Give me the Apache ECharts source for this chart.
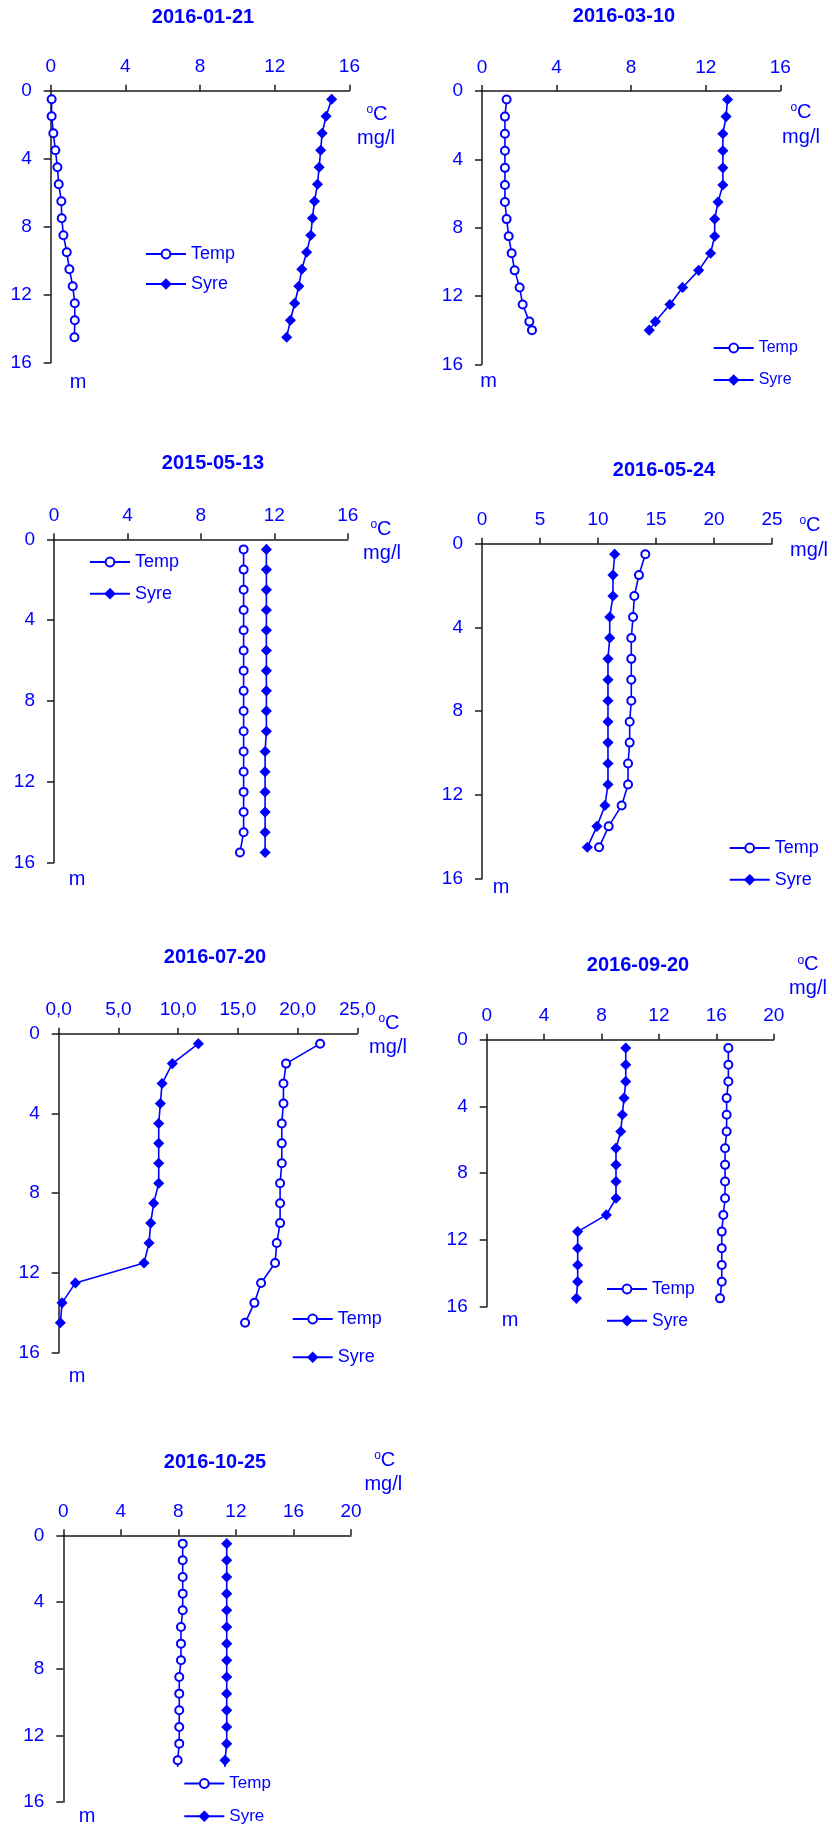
<!DOCTYPE html>
<html>
<head>
<meta charset="utf-8">
<script src="https://cdn.jsdelivr.net/npm/echarts@6/dist/echarts.min.js"></script>
<style>
  html, body { margin: 0; padding: 0; background: #fff; }
  #chart { width: 832px; height: 1827px; }
</style>
</head>
<body>
<div id="chart"></div>
<script>
// Depth profiles of water temperature (Temp, °C) and dissolved oxygen (Syre, mg/l)
const seriesNames = ['Temp', 'Syre'];
const dates = ['2016-01-21', '2016-03-10', '2015-05-13', '2016-05-24', '2016-07-20', '2016-09-20', '2016-10-25'];
const depthTicks = [0, 4, 8, 12, 16];

// 2016-01-21
const depth0121 = [0.5, 1.5, 2.5, 3.5, 4.5, 5.5, 6.5, 7.5, 8.5, 9.5, 10.5, 11.5, 12.5, 13.5, 14.5];
const temp0121  = [0.05, 0.05, 0.14, 0.25, 0.36, 0.43, 0.57, 0.59, 0.68, 0.86, 1.0, 1.18, 1.29, 1.29, 1.27];
const syre0121  = [15.05, 14.75, 14.54, 14.46, 14.38, 14.29, 14.13, 14.02, 13.93, 13.71, 13.45, 13.29, 13.07, 12.84, 12.64];

// 2016-03-10
const depth0310 = [0.5, 1.5, 2.5, 3.5, 4.5, 5.5, 6.5, 7.5, 8.5, 9.5, 10.5, 11.5, 12.5, 13.5, 14.0];
const temp0310  = [1.32, 1.23, 1.23, 1.23, 1.23, 1.23, 1.23, 1.32, 1.43, 1.59, 1.75, 2.02, 2.18, 2.54, 2.68];
const syre0310  = [13.17, 13.09, 12.92, 12.92, 12.92, 12.92, 12.66, 12.48, 12.48, 12.26, 11.62, 10.76, 10.08, 9.30, 8.97];

// 2015-05-13
const depth0513 = [0.5, 1.5, 2.5, 3.5, 4.5, 5.5, 6.5, 7.5, 8.5, 9.5, 10.5, 11.5, 12.5, 13.5, 14.5, 15.5];
const temp0513  = [10.33, 10.33, 10.33, 10.33, 10.33, 10.33, 10.33, 10.33, 10.33, 10.33, 10.33, 10.33, 10.33, 10.33, 10.33, 10.13];
const syre0513  = [11.57, 11.57, 11.57, 11.57, 11.57, 11.57, 11.57, 11.57, 11.57, 11.57, 11.50, 11.50, 11.50, 11.50, 11.50, 11.50];

// 2016-05-24
const depth0524 = [0.5, 1.5, 2.5, 3.5, 4.5, 5.5, 6.5, 7.5, 8.5, 9.5, 10.5, 11.5, 12.5, 13.5, 14.5];
const temp0524  = [14.08, 13.53, 13.13, 13.02, 12.87, 12.87, 12.87, 12.87, 12.73, 12.73, 12.59, 12.59, 12.04, 10.92, 10.09];
const syre0524  = [11.44, 11.29, 11.29, 11.01, 11.01, 10.86, 10.86, 10.86, 10.86, 10.86, 10.86, 10.86, 10.60, 9.91, 9.08];

// 2016-07-20
const depth0720 = [0.5, 1.5, 2.5, 3.5, 4.5, 5.5, 6.5, 7.5, 8.5, 9.5, 10.5, 11.5, 12.5, 13.5, 14.5];
const temp0720  = [21.88, 19.03, 18.81, 18.81, 18.67, 18.67, 18.67, 18.53, 18.53, 18.53, 18.25, 18.11, 16.94, 16.38, 15.60];
const syre0720  = [11.69, 9.51, 8.65, 8.51, 8.37, 8.37, 8.37, 8.37, 7.95, 7.70, 7.56, 7.14, 1.40, 0.28, 0.14];

// 2016-09-20
const depth0920 = [0.5, 1.5, 2.5, 3.5, 4.5, 5.5, 6.5, 7.5, 8.5, 9.5, 10.5, 11.5, 12.5, 13.5, 14.5, 15.5];
const temp0920  = [16.84, 16.84, 16.84, 16.72, 16.72, 16.72, 16.61, 16.61, 16.61, 16.61, 16.49, 16.38, 16.38, 16.38, 16.38, 16.26];
const syre0920  = [9.69, 9.69, 9.69, 9.57, 9.45, 9.34, 9.01, 9.01, 9.01, 9.01, 8.34, 6.34, 6.34, 6.34, 6.34, 6.25];

// 2016-10-25 (deepest reading sits under the legend box)
const depth1025 = [0.5, 1.5, 2.5, 3.5, 4.5, 5.5, 6.5, 7.5, 8.5, 9.5, 10.5, 11.5, 12.5, 13.5, 14.5];
const temp1025  = [8.30, 8.30, 8.30, 8.30, 8.30, 8.18, 8.18, 8.18, 8.06, 8.06, 8.06, 8.06, 8.06, 7.95, 7.95];
const syre1025  = [11.36, 11.36, 11.36, 11.36, 11.36, 11.36, 11.36, 11.36, 11.36, 11.36, 11.36, 11.36, 11.36, 11.24, 11.24];

const profiles = [
  { depth: depth0121, temp: temp0121, syre: syre0121 },
  { depth: depth0310, temp: temp0310, syre: syre0310 },
  { depth: depth0513, temp: temp0513, syre: syre0513 },
  { depth: depth0524, temp: temp0524, syre: syre0524 },
  { depth: depth0720, temp: temp0720, syre: syre0720 },
  { depth: depth0920, temp: temp0920, syre: syre0920 },
  { depth: depth1025, temp: temp1025, syre: syre1025 }
];

// Panel layout: plot box, value-axis range, text anchors and legend placement
const layout = [
  { box: [50.7, 90.7, 298.7, 272],  xMax: 16, xStep: 4, title: [203, 17],    degC: [377, 114],   mgl: [376, 138],   m: [78, 382],    legend: { left: 145,   top: 245,    size: 18, gap: 12 } },
  { box: [482, 91, 298.3, 273.3],   xMax: 16, xStep: 4, title: [624, 16],    degC: [801, 112],   mgl: [801, 137],   m: [488.5, 381], legend: { left: 712.7, top: 340,    size: 16, gap: 16 } },
  { box: [54, 539.3, 293.7, 323.3], xMax: 16, xStep: 4, title: [213, 463],   degC: [381, 529],   mgl: [382, 553],   m: [77, 879],    legend: { left: 89,    top: 553,    size: 18, gap: 13.7 } },
  { box: [482, 543.7, 290, 335],    xMax: 25, xStep: 5, title: [664, 470],   degC: [810, 525],   mgl: [809, 550],   m: [501, 887],   legend: { left: 728.7, top: 839,    size: 18, gap: 13.7 } },
  { box: [58.7, 1033.7, 298.7, 319], xMax: 25, xStep: 5, comma: true, title: [215, 957], degC: [389, 1023], mgl: [388, 1047], m: [77, 1376], legend: { left: 291.7, top: 1310, size: 18, gap: 20.3 } },
  { box: [486.7, 1039.7, 287, 267], xMax: 20, xStep: 4, title: [638, 965.7], degC: [808, 964.5], mgl: [808, 988.5], m: [510, 1320], legend: { left: 606,   top: 1280,   size: 17.5, gap: 13.7 } },
  { box: [63.3, 1535.3, 287.7, 266.7], xMax: 20, xStep: 4, title: [215, 1462.3], degC: [384.7, 1460], mgl: [383.3, 1484], m: [87, 1816], legend: { left: 171.3, top: 1767, size: 17, gap: 15.7, pad: [8, 6, 0, 12], bg: '#ffffff' } }
];

const BLUE = '#0000ff';
const AXIS = '#1a1a1a';
const FONT = '"Liberation Sans", Arial, Helvetica, sans-serif';

const grids = [], xAxes = [], yAxes = [], series = [], legends = [], graphics = [];

layout.forEach((p, i) => {
  const prof = profiles[i];
  grids.push({ left: p.box[0], top: p.box[1], width: p.box[2], height: p.box[3], containLabel: false });

  xAxes.push({
    gridIndex: i, type: 'value', position: 'top', min: 0, max: p.xMax, interval: p.xStep,
    axisLine: { show: true, onZero: false, lineStyle: { color: AXIS, width: 1.5 } },
    axisTick: { show: true, inside: false, length: 6, lineStyle: { color: AXIS, width: 1.5 } },
    splitLine: { show: false },
    axisLabel: {
      color: BLUE, fontSize: 19, fontFamily: FONT, margin: 14,
      formatter: p.comma ? (v => v.toFixed(1).replace('.', ',')) : (v => String(v))
    }
  });

  yAxes.push({
    gridIndex: i, type: 'value', inverse: true,
    min: depthTicks[0], max: depthTicks[depthTicks.length - 1], interval: depthTicks[1] - depthTicks[0],
    axisLine: { show: true, onZero: false, lineStyle: { color: AXIS, width: 1.5 } },
    axisTick: { show: true, inside: false, length: 7, lineStyle: { color: AXIS, width: 1.5 } },
    splitLine: { show: false },
    axisLabel: { color: BLUE, fontSize: 19, fontFamily: FONT, margin: 19 }
  });

  series.push({
    name: seriesNames[0], type: 'line', xAxisIndex: i, yAxisIndex: i,
    data: prof.depth.map((d, k) => [prof.temp[k], d]),
    symbol: 'emptyCircle', symbolSize: 8,
    lineStyle: { color: BLUE, width: 1.6 },
    itemStyle: { color: BLUE, borderColor: BLUE, borderWidth: 1.7 },
    z: 2
  });
  series.push({
    name: seriesNames[1], type: 'line', xAxisIndex: i, yAxisIndex: i,
    data: prof.depth.map((d, k) => [prof.syre[k], d]),
    symbol: 'diamond', symbolSize: 9,
    lineStyle: { color: BLUE, width: 1.6 },
    itemStyle: { color: BLUE, borderColor: BLUE, borderWidth: 1.5 },
    z: 2
  });

  const lg = p.legend;
  legends.push({
    data: seriesNames, orient: 'vertical', left: lg.left, top: lg.top,
    padding: lg.pad || 0, backgroundColor: lg.bg || 'transparent',
    itemWidth: 40, itemHeight: 11, itemGap: lg.gap, selectedMode: false,
    textStyle: { color: BLUE, fontSize: lg.size, lineHeight: lg.size, fontFamily: FONT },
    z: 6
  });

  graphics.push({
    type: 'text', x: p.title[0], y: p.title[1],
    style: { text: dates[i], fill: BLUE, fontSize: 20, fontWeight: 'bold', fontFamily: FONT,
             align: 'center', verticalAlign: 'middle', textAlign: 'center', textVerticalAlign: 'middle' }
  });
  graphics.push({
    type: 'text', x: p.degC[0], y: p.degC[1],
    style: { text: '{s|o}C', fill: BLUE, fontSize: 20, fontFamily: FONT,
             rich: { s: { fontSize: 12, fontFamily: FONT, fill: BLUE, verticalAlign: 'top' } },
             align: 'center', verticalAlign: 'middle', textAlign: 'center', textVerticalAlign: 'middle' }
  });
  graphics.push({
    type: 'text', x: p.mgl[0], y: p.mgl[1],
    style: { text: 'mg/l', fill: BLUE, fontSize: 20, fontFamily: FONT,
             align: 'center', verticalAlign: 'middle', textAlign: 'center', textVerticalAlign: 'middle' }
  });
  graphics.push({
    type: 'text', x: p.m[0], y: p.m[1],
    style: { text: 'm', fill: BLUE, fontSize: 20, fontFamily: FONT,
             align: 'center', verticalAlign: 'middle', textAlign: 'center', textVerticalAlign: 'middle' }
  });
});

const chart = echarts.init(document.getElementById('chart'), null, { renderer: 'canvas' });
chart.setOption({
  animation: false,
  backgroundColor: '#ffffff',
  textStyle: { fontFamily: FONT },
  grid: grids,
  xAxis: xAxes,
  yAxis: yAxes,
  legend: legends,
  series: series,
  graphic: { elements: graphics }
});
</script>
</body>
</html>
